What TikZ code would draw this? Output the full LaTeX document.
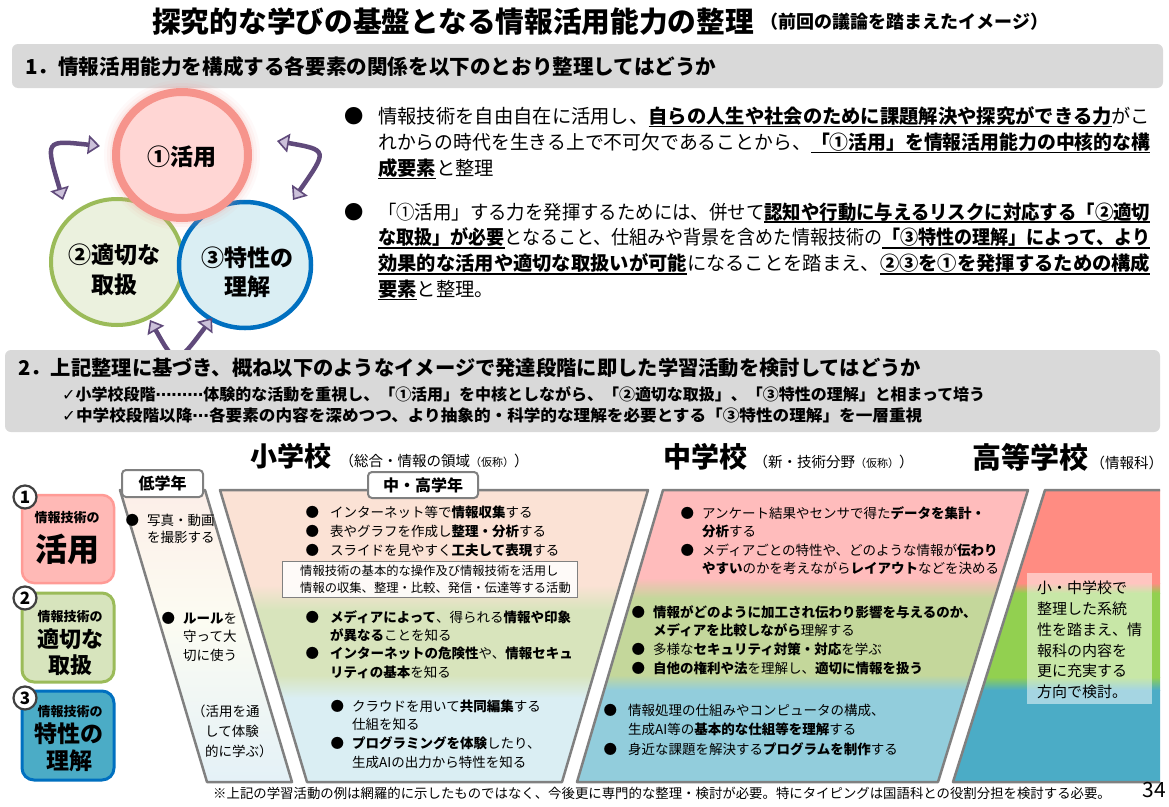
\documentclass[tikz,border=0pt]{standalone}
\usepackage{graphicx}
\usepackage{fontspec}
\setmainfont{Noto Sans CJK JP}
\newfontfamily\symfont{DejaVu Sans}
\usetikzlibrary{arrows.meta}

\definecolor{barg}{RGB}{217,217,217}
\definecolor{edgeg}{RGB}{128,128,128}
\definecolor{numg}{RGB}{64,64,64}
\definecolor{arrp}{RGB}{96,74,123}
\definecolor{arrl}{RGB}{204,193,218}
\definecolor{ringA}{RGB}{246,148,140}
\definecolor{fillA}{RGB}{255,214,212}
\definecolor{ringB}{RGB}{155,187,89}
\definecolor{fillB}{RGB}{235,241,222}
\definecolor{ringC}{RGB}{0,112,192}
\definecolor{fillC}{RGB}{218,238,243}
\definecolor{boxA}{RGB}{255,185,182}
\definecolor{lineA}{RGB}{255,155,150}
\definecolor{boxB}{RGB}{215,228,189}
\definecolor{boxC}{RGB}{75,172,198}
% funnel colours
\definecolor{lgA}{RGB}{252,238,232}
\definecolor{lgB}{RGB}{252,252,242}
\definecolor{lgC}{RGB}{228,241,247}
\definecolor{mhA}{RGB}{251,226,213}
\definecolor{mhB}{RGB}{216,228,188}
\definecolor{mhC}{RGB}{218,238,243}
\definecolor{msA}{RGB}{255,188,188}
\definecolor{msB}{RGB}{196,215,155}
\definecolor{msC}{RGB}{146,205,220}
\definecolor{hsA}{RGB}{255,140,130}
\definecolor{hsB}{RGB}{146,208,80}
\definecolor{hsC}{RGB}{75,172,198}

\newcommand\fs[2]{\fontsize{#1}{#2}\selectfont}
\newcommand\ubf[1]{\sbox0{\bfseries#1}\rlap{\rule[-0.2em]{\wd0}{0.08em}}\usebox0}
\newcommand\bul[1][8pt]{\llap{●\hspace{#1}}}
\newcommand\fit[2]{\resizebox{#1}{\height}{#2}}
\newcommand\symb[1]{{\symfont\bfseries #1}}

\begin{document}
\begin{tikzpicture}[x=1pt, y=-1pt,
  bar/.style={fill=barg, rounded corners=6pt},
  txt/.style={anchor=west, inner sep=0pt, align=left},
  edge/.style={draw=edgeg, line width=2.5pt, line join=round},
  tag/.style={draw=edgeg, line width=2pt, fill=white, rounded corners=4pt, inner sep=0pt, font=\bfseries\fs{16}{18}},
  numc/.style={circle, draw=numg, line width=2.2pt, fill=white, minimum size=23pt, inner sep=0pt, font=\bfseries\fs{17}{18}},
  cyc/.style={draw=arrp, line width=4.5pt, arrows={Triangle[fill=arrl,length=12pt,width=19pt,line width=1.6pt]-Triangle[fill=arrl,length=12pt,width=19pt,line width=1.6pt]}}]
\useasboundingbox[fill=white] (0,0) rectangle (1169,806);

% title
\node (title) [txt, font=\bfseries\fs{28.7}{30}] at (152,22) {探究的な学びの基盤となる情報活用能力の整理};
\node (titlesub) [txt, font=\bfseries\fs{18}{20}] at ([xshift=6pt]title.east) {（前回の議論を踏まえたイメージ）};

% part 1
\fill[bar] (12,44) rectangle (1163,88);
\node (head1) [txt, font=\bfseries\fs{20.6}{22}] at (25,67) {1．情報活用能力を構成する各要素の関係を以下のとおり整理してはどうか};

% three circles
\coordinate (cA) at (182,155);
\coordinate (cB) at (117,262);
\coordinate (cC) at (245,265);
\draw[ringB, line width=4pt, fill=fillB] (cB) ellipse [x radius=66, y radius=63];
\draw[ringC, line width=4.5pt, fill=fillC] (cC) ellipse [x radius=66, y radius=63];
\foreach \d/\o in {12/0.05, 9/0.08, 6/0.12}
  \fill[ringA, opacity=\o] (cA) ellipse [x radius=66+\d, y radius=63+\d];
\draw[ringA, line width=8pt, fill=fillA] (cA) ellipse [x radius=66, y radius=63];
\node (katsuyo) [font=\bfseries\fs{23}{25}] at (182,157) {①活用};
\node (toriatsukai) [align=center, font=\bfseries\fs{23}{30}] at (114,270) {②適切な\\取扱};
\node (tokusei) [align=center, font=\bfseries\fs{23}{29}] at (247,272) {③特性の\\理解};

% circular arrows
\coordinate (a1) at (100,146); \coordinate (a2) at (63,200);
\coordinate (b1) at (277,141); \coordinate (b2) at (293,200);
\coordinate (c1) at (150,320); \coordinate (c2) at (212,318);
\draw[cyc] (a1) .. controls (45,140) .. (a2);
\draw[cyc] (b1) .. controls (328,150) .. (b2);
\draw[cyc] (c1) .. controls (176,366) .. (c2);

% bullets, part 1
\node (pointA) [txt, font=\fs{19.3}{26}] at (378,143) {%
\bul[14pt]\fit{772pt}{情報技術を自由自在に活用し、\ubf{自らの人生や社会のために課題解決や探究ができる力}がこ}\\
\fit{772pt}{れからの時代を生きる上で不可欠であることから、\ubf{「①活用」を情報活用能力の中核的な構}}\\
\ubf{成要素}と整理};
\node (pointB) [txt, font=\fs{19.3}{25.8}] at (378,251.5) {%
\bul[14pt]\fit{772pt}{「①活用」する力を発揮するためには、併せて\ubf{認知や行動に与えるリスクに対応する「②適切}}\\
\fit{772pt}{\ubf{な取扱」が必要}となること、仕組みや背景を含めた情報技術の\ubf{「③特性の理解」によって、より}}\\
\fit{772pt}{\ubf{効果的な活用や適切な取扱いが可能}になることを踏まえ、\ubf{②③を①を発揮するための構成}}\\
\ubf{要素}と整理。};

% part 2
\fill[bar] (5,350) rectangle (1160,432);
\node (head2) [txt, font=\bfseries\fs{20.3}{22}] at (18,368) {2．上記整理に基づき、概ね以下のようなイメージで発達段階に即した学習活動を検討してはどうか};
\node (check1) [txt, font=\bfseries\fs{15.9}{18}] at (62,394) {\fit{923pt}{\symb{✓}小学校段階\symb{⋯⋯⋯}体験的な活動を重視し、「①活用」を中核としながら、「②適切な取扱」、「③特性の理解」と相まって培う}};
\node (check2) [txt, font=\bfseries\fs{15.9}{18}] at (62,415) {\fit{860pt}{\symb{✓}中学校段階以降\symb{⋯}各要素の内容を深めつつ、より抽象的・科学的な理解を必要とする「③特性の理解」を一層重視}};

% school headings
\node (shou) [txt, font=\bfseries\fs{27}{28}] at (250,456) {小学校};
\node (shousub) [anchor=base west, inner sep=0pt, font=\fs{14.5}{16}] at ([xshift=8pt]shou.base east) {（総合・情報の領域{\fs{11}{12}（仮称）}）};
\node (chuu) [txt, font=\bfseries\fs{28}{29}] at (663,457) {中学校};
\node (chuusub) [anchor=base west, inner sep=0pt, font=\fs{14.5}{16}] at ([xshift=6pt]chuu.base east) {（新・技術分野{\fs{11}{12}（仮称）}）};
\node (kou) [txt, font=\bfseries\fs{29}{30}] at (972,457) {高等学校};
\node (kousub) [anchor=base west, inner sep=0pt, font=\fs{14.5}{16}] at ([xshift=2pt]kou.base east) {（情報科）};

% funnel: low grades
\begin{scope}
  \clip (120,490) -- (205,490) -- (292,782) -- (207,782) -- cycle;
  \shade[top color=lgA, bottom color=lgB] (100,490) rectangle (300,620);
  \shade[top color=lgB, bottom color=lgC] (100,620) rectangle (300,782);
\end{scope}
\draw[edge] (120,490) -- (205,490) -- (292,782) -- (207,782) -- cycle;

% funnel: middle and upper grades
\begin{scope}
  \clip (220,490) -- (648,490) -- (562,782) -- (307,782) -- cycle;
  \foreach \ya/\yb/\ca/\cb in {490/585/mhA/mhA, 585/610/mhA/mhB, 610/675/mhB/mhB, 675/698/mhB/mhC, 698/782/mhC/mhC}
    \shade[top color=\ca, bottom color=\cb] (210,\ya) rectangle (660,\yb);
\end{scope}
\draw[edge] (220,490) -- (648,490) -- (562,782) -- (307,782) -- cycle;

% funnel: junior high
\begin{scope}
  \clip (663,490) -- (1028,490) -- (938,782) -- (577,782) -- cycle;
  \foreach \ya/\yb/\ca/\cb in {490/578/msA/msA, 578/598/msA/msB, 598/675/msB/msB, 675/690/msB/msC, 690/782/msC/msC}
    \shade[top color=\ca, bottom color=\cb] (570,\ya) rectangle (1040,\yb);
\end{scope}
\draw[edge] (663,490) -- (1028,490) -- (938,782) -- (577,782) -- cycle;

% funnel: high school
\begin{scope}
  \clip (1045,490) -- (1160,490) -- (1160,782) -- (953,782) -- cycle;
  \foreach \ya/\yb/\ca/\cb in {490/583/hsA/hsA, 583/593/hsA/hsB, 593/677/hsB/hsB, 677/690/hsB/hsC, 690/782/hsC/hsC}
    \shade[top color=\ca, bottom color=\cb] (940,\ya) rectangle (1165,\yb);
\end{scope}
\draw[edge] (1160,490) -- (1045,490) -- (953,782) -- (1160,782);

% grade tags
\node (low) [tag, minimum width=81pt, minimum height=27pt] at (162.5,483.5) {低学年};
\node (midhigh) [tag, minimum width=110pt, minimum height=26pt] at (423,485) {中・高学年};

% low grade texts
\node (lg1) [txt, font=\fs{13.5}{17}] at (147,528.5) {\bul 写真・動画\\を撮影する};
\node (lg2) [txt, font=\fs{13.5}{18.5}] at (183,636.5) {\bul\textbf{ルール}を\\守って大\\切に使う};
\node (lg3) [txt, font=\fs{13.5}{20}] at (192,731) {（活用を通\\\hspace{13pt}して体験\\\hspace{13pt}的に学ぶ）};

% middle and upper grade texts
\node (mh1) [txt, font=\fs{13.5}{19}] at (330,531) {%
\bul[11pt]インターネット等で\textbf{情報収集}する\\
\bul[11pt]表やグラフを作成し\textbf{整理・分析}する\\
\bul[11pt]スライドを見やすく\textbf{工夫して表現}する};
\draw[edgeg, line width=1pt, fill=white, fill opacity=0.85] (282,561) rectangle (577,597);
\node (mhbox) [txt, font=\fs{12.3}{17}] at (300,579.5) {情報技術の基本的な操作及び情報技術を活用し\\情報の収集、整理・比較、発信・伝達等する活動};
\node (mh2) [txt, font=\fs{13.5}{18.3}] at (330,644.5) {%
\bul[11pt]\textbf{メディアによって}、得られる\textbf{情報や印象}\\
\textbf{が異なる}ことを知る\\
\bul[11pt]\textbf{インターネットの危険性}や、\textbf{情報セキュ}\\
\textbf{リティの基本}を知る};
\node (mh3) [txt, font=\fs{13.5}{18.7}] at (352,734) {%
\bul クラウドを用いて\textbf{共同編集}する\\
仕組を知る\\
\bul\textbf{プログラミングを体験}したり、\\
生成AIの出力から特性を知る};

% junior high texts
\node (ms1) [txt, font=\fs{13.5}{18.3}] at (702,540.5) {%
\bul アンケート結果やセンサで得た\textbf{データを集計・}\\
\textbf{分析}する\\
\bul メディアごとの特性や、どのような情報が\textbf{伝わり}\\
\textbf{やすい}のかを考えながら\textbf{レイアウト}などを決める};
\node (ms2) [txt, font=\fs{13.5}{18.7}] at (653,640) {%
\bul\textbf{情報がどのように加工され伝わり影響を与えるのか、}\\
\textbf{メディアを比較しながら}理解する\\
\bul 多様な\textbf{セキュリティ対策・対応}を学ぶ\\
\bul\textbf{自他の権利や法}を理解し、\textbf{適切に情報を扱う}};
\node (ms3) [txt, font=\fs{13.5}{19.5}] at (628,729.5) {%
\bul[11pt]情報処理の仕組みやコンピュータの構成、\\
生成AI等の\textbf{基本的な仕組等を理解}する\\
\bul[11pt]身近な課題を解決する\textbf{プログラムを制作}する};

% high school note
\fill[white, opacity=0.5] (1027,573) rectangle (1152,704);
\node (hsnote) [txt, font=\fs{15}{20.7}] at (1037,640) {小・中学校で\\整理した系統\\性を踏まえ、情\\報科の内容を\\更に充実する\\方向で検討。};

% left labels
\draw[lineA, line width=2.5pt, fill=boxA, rounded corners=12pt] (22,495) rectangle (114,583);
\draw[ringB, line width=3pt, fill=boxB, rounded corners=12pt] (22,593) rectangle (114,682);
\draw[ringC, line width=3pt, fill=boxC, rounded corners=12pt] (22,691) rectangle (114,780);
\node (lab1a) [font=\bfseries\fs{13}{14}] at (67,518) {情報技術の};
\node (lab1b) [font=\bfseries\fs{32}{34}] at (67,549) {活用};
\node (lab2a) [font=\bfseries\fs{13}{14}] at (70,617) {情報技術の};
\node (lab2b) [font=\bfseries\fs{22}{24}] at (70,639) {適切な};
\node (lab2c) [font=\bfseries\fs{22}{24}] at (70,665) {取扱};
\node (lab3a) [font=\bfseries\fs{13}{14}] at (70,712) {情報技術の};
\node (lab3b) [font=\bfseries\fs{23}{24}] at (69,734) {特性の};
\node (lab3c) [font=\bfseries\fs{23}{24}] at (69,761) {理解};
\node (num1) [numc] at (25,497) {1};
\node (num2) [numc] at (25,598) {2};
\node (num3) [numc] at (25,698) {3};

% footer
\node (note) [txt, font=\fs{13.4}{15}] at (213,793) {※上記の学習活動の例は網羅的に示したものではなく、今後更に専門的な整理・検討が必要。特にタイピングは国語科との役割分担を検討する必要。};
\node (page) [anchor=east, inner sep=0pt, font=\fs{21}{22}] at (1166,790) {34};
\end{tikzpicture}
\end{document}
